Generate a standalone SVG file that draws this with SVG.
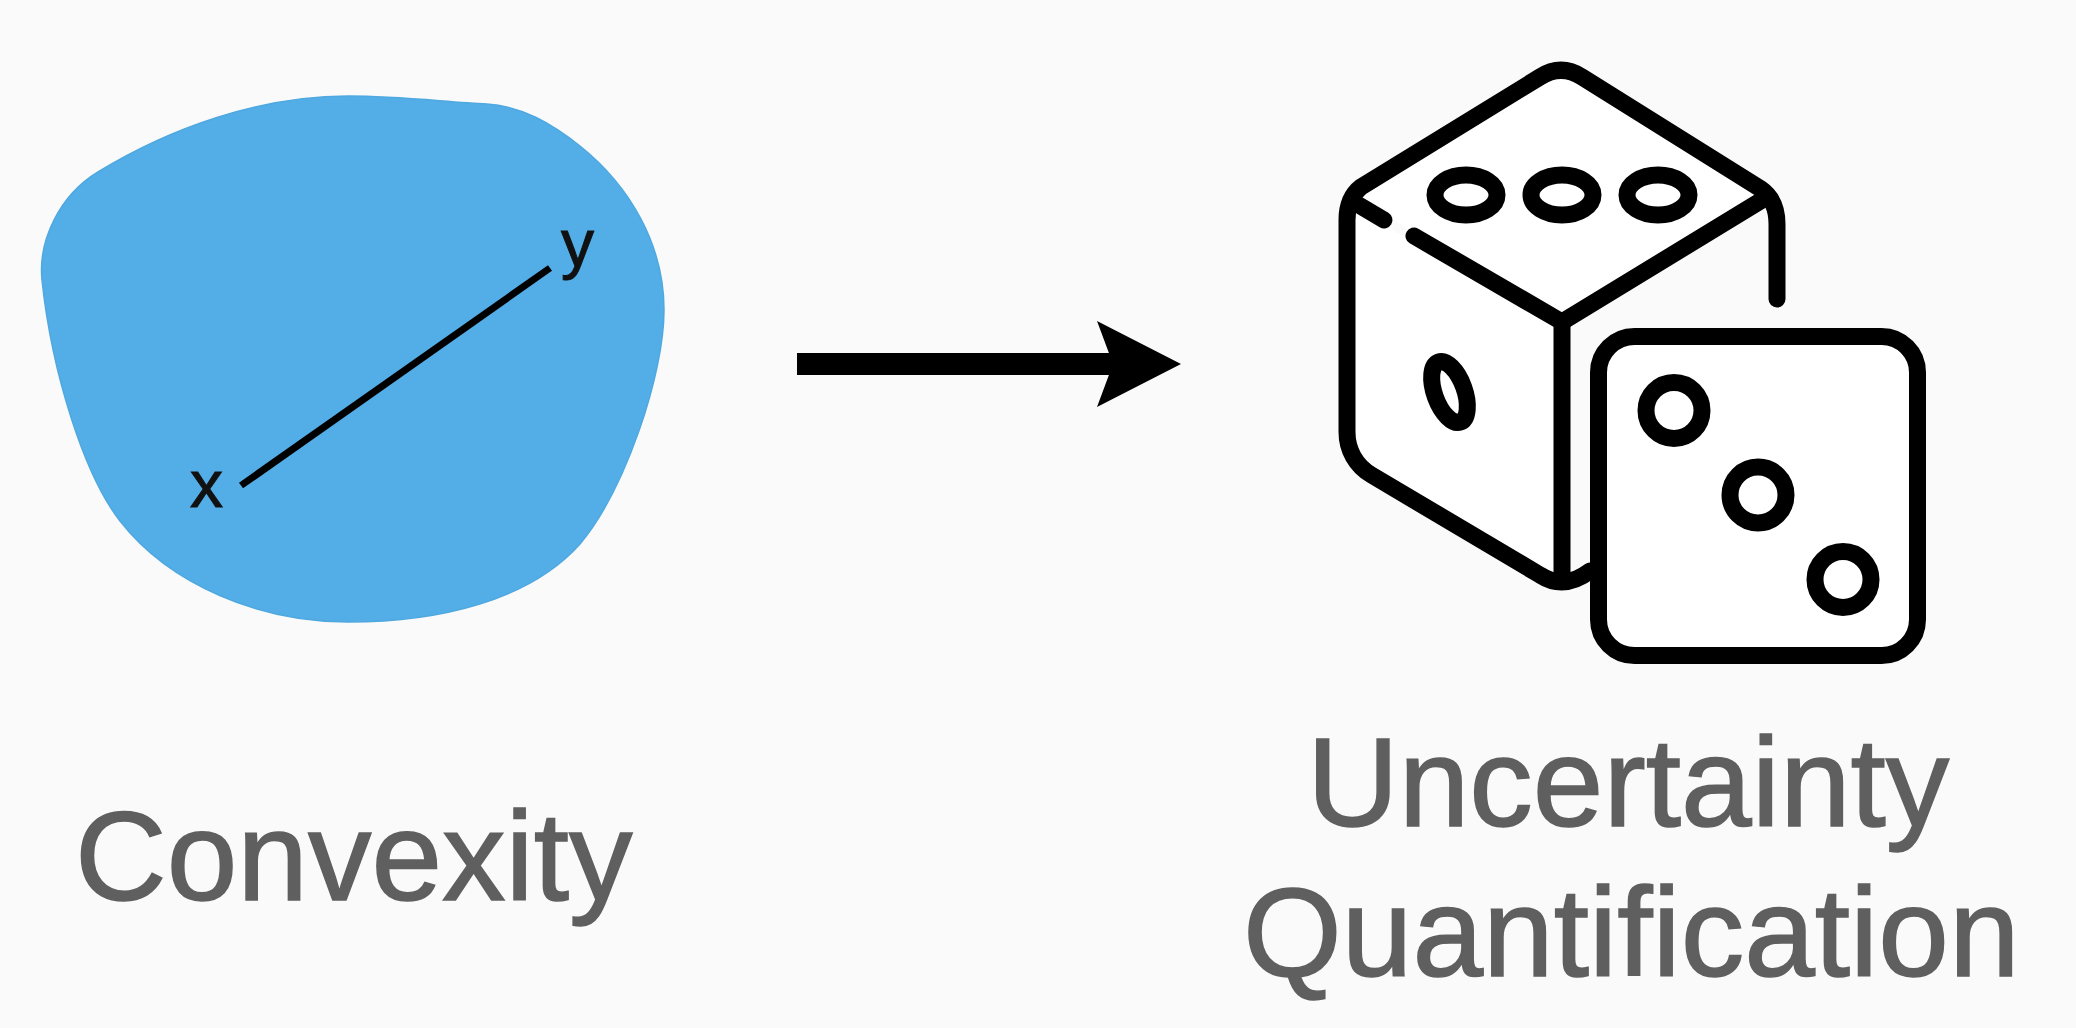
<svg xmlns="http://www.w3.org/2000/svg" width="2076" height="1028" viewBox="0 0 2076 1028">
  <style>
    .label { font-family: "Liberation Sans", Arial, sans-serif; font-size: 127px; fill: #5f5f5f; stroke: #5f5f5f; stroke-width: 1.5px; }
    .point { font-family: "Liberation Sans", Arial, sans-serif; font-size: 66px; fill: #111111; stroke: #111111; stroke-width: 1px; }
    .ink { fill: none; stroke: #000000; stroke-width: 17; stroke-linecap: round; stroke-linejoin: round; }
    .face { fill: #ffffff; stroke: none; }
  </style>
  <defs>
    <marker id="head" markerUnits="userSpaceOnUse" markerWidth="90" markerHeight="90" refX="16" refY="43" orient="auto">
      <path d="M0,0 L84,43 L0,86 L16,43 Z" fill="#000000"/>
    </marker>
  </defs>
  <rect width="2076" height="1028" fill="#fafafa"/>
  <g id="convexity">
    <path id="blob" d="M348,96 C400,96 445,102 487,104 C522,106 552,124 580,146 C630,186 664,245 664,310 C664,375 625,490 580,544 C530,600 440,622 348,622 C260,622 170,585 120,521 C85,476 52,375 42,280 C38,240 60,195 98,172 C170,128 260,96 348,96 Z" fill="#53aee8" stroke="#4fa8df" stroke-width="1.5"/>
    <line x1="241" y1="485.5" x2="550" y2="268" stroke="#000000" stroke-width="7" stroke-linecap="butt"/>
    <text class="point" x="190" y="507">x</text>
    <text class="point" x="561" y="266">y</text>
    <text class="label" x="75" y="900">Convexity</text>
  </g>
  <g id="connectors">
    <line x1="797" y1="364" x2="1113" y2="364" stroke="#000000" stroke-width="22" marker-end="url(#head)"/>
  </g>
  <g id="uncertainty">
    <g id="big-die">
      <path class="face" d="M1561,70 L1767,197 L1562,322 L1355,197 Z"/>
      <path class="face" d="M1346,205 L1562,322 L1562,585 L1371,475 L1346,432 Z"/>
      <path class="ink" d="M1777,299 L1777,224 C1777,208 1771,196 1761,189 L1582,77 C1568,68 1554,68 1540,77 L1361,187 C1352,194 1347,206 1347,220 L1347,432 C1347,450 1356,466 1371.5,475 L1540,575 C1554,584 1570,586 1590,571"/>
      <path class="ink" d="M1767,197 L1562,322 L1414,236"/>
      <path class="ink" d="M1352,201 L1384,220"/>
      <path class="ink" d="M1562,322 L1562,579"/>
      <ellipse class="ink" cx="1466" cy="195" rx="31" ry="20"/>
      <ellipse class="ink" cx="1562" cy="195" rx="31" ry="20"/>
      <ellipse class="ink" cx="1658" cy="195" rx="31" ry="20"/>
      <ellipse class="ink" cx="1449.5" cy="392" rx="15" ry="32" transform="rotate(-20 1449.5 392)"/>
    </g>
    <g id="small-die">
      <rect x="1598.5" y="336.5" width="319" height="319" rx="36" fill="#ffffff" stroke="#000000" stroke-width="17"/>
      <circle class="ink" cx="1674" cy="410.5" r="28"/>
      <circle class="ink" cx="1758" cy="495" r="28"/>
      <circle class="ink" cx="1843" cy="579.5" r="28"/>
    </g>
    <text class="label" x="1307" y="826">Uncertainty</text>
    <text class="label" x="1243" y="976">Quantification</text>
  </g>
</svg>
